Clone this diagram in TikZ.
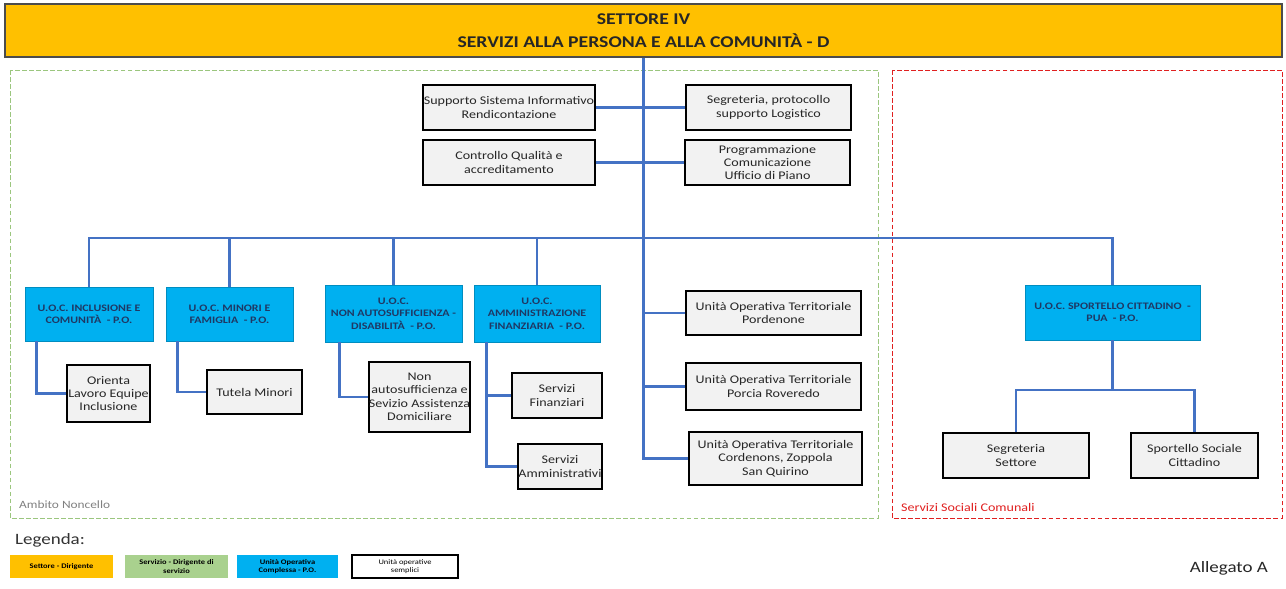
\documentclass[tikz,border=0pt]{standalone}
\usepackage{fontspec}
\setmainfont[FakeStretch=1.2]{Carlito}
\newcommand\pxu{0.03cm}
\definecolor{hdrorange}{HTML}{FFC000}
\definecolor{uocblue}{HTML}{00B0F0}
\definecolor{linkblue}{HTML}{4472C4}
\definecolor{boxgray}{HTML}{F2F2F2}
\definecolor{navytext}{HTML}{1F3864}
\definecolor{legreen}{HTML}{A9D18E}
\definecolor{zonegreen}{HTML}{70AD47}
\definecolor{zonered}{HTML}{E02020}
\begin{document}
\begin{tikzpicture}[x=0.03cm,y=-0.03cm,
  gbox/.style={draw=black,line width=1.1pt,fill=boxgray,align=center,inner sep=0pt,
    font=\fontsize{10}{11.5}\selectfont,text=black!85},
  ubox/.style={fill=uocblue,draw=uocblue!80!black,line width=0.4pt,align=center,inner sep=0pt,
    font=\fontsize{8.5}{10.5}\selectfont\bfseries,text=navytext},
  link/.style={draw=linkblue,line width=2.4pt},
  legbox/.style={align=center,inner sep=0pt,font=\fontsize{6}{7}\selectfont\bfseries,
    minimum height=23*\pxu},
  zone/.style={dashed,line width=0.7pt,dash pattern=on 4pt off 2pt}]
\useasboundingbox (0,0) rectangle (1286,589);
% zones
\draw[zone,draw=zonegreen!70] (10,70) rectangle (878,518);
\draw[zone,draw=zonered] (892,70) rectangle (1282,518);
\node[anchor=west,text=black!50,font=\fontsize{9.5}{11}\selectfont] (lamb) at (15,505) {Ambito Noncello};
\node[anchor=west,text=zonered,font=\fontsize{10}{12}\selectfont] (lssc) at (897,507) {Servizi Sociali Comunali};
% header
\node[fill=hdrorange,draw=black!70,line width=1.2pt,minimum width=1277*\pxu,minimum height=53*\pxu,
  align=center,inner sep=0pt,font=\fontsize{14}{19.5}\selectfont\bfseries,text=black!85] (hdr) at (643.5,30.5)
  {SETTORE IV\\SERVIZI ALLA PERSONA E ALLA COMUNITÀ - D};
% staff boxes
\node[gbox,minimum width=172*\pxu,minimum height=45*\pxu] (sup) at (509,107.5) {Supporto Sistema Informativo\\Rendicontazione};
\node[gbox,minimum width=165*\pxu,minimum height=45*\pxu] (seg) at (768.5,107.5) {Segreteria, protocollo\\supporto Logistico};
\node[gbox,minimum width=172*\pxu,minimum height=45*\pxu] (ctrl) at (509,162.5) {Controllo Qualità e\\accreditamento};
\node[gbox,minimum width=165*\pxu,minimum height=45*\pxu,font=\fontsize{10}{11}\selectfont] (prog) at (767.5,162.5) {Programmazione\\Comunicazione\\Ufficio di Piano};
% UOC boxes
\node[ubox,minimum width=128*\pxu,minimum height=54*\pxu] (u1) at (89,314) {U.O.C. INCLUSIONE E\\COMUNITÀ \ - P.O.};
\node[ubox,minimum width=127*\pxu,minimum height=54*\pxu] (u2) at (229.5,314) {U.O.C. MINORI E\\FAMIGLIA \ - P.O.};
\node[ubox,minimum width=137*\pxu,minimum height=57*\pxu] (u3) at (393.5,313.5) {U.O.C.\\NON AUTOSUFFICIENZA -\\DISABILITÀ \ - P.O.};
\node[ubox,minimum width=126*\pxu,minimum height=57*\pxu] (u4) at (537,313.5) {U.O.C.\\AMMINISTRAZIONE\\FINANZIARIA \ - P.O.};
\node[ubox,minimum width=175*\pxu,minimum height=55*\pxu] (u5) at (1112.5,312.5) {U.O.C. SPORTELLO CITTADINO \ -\\PUA \ - P.O.};
% sub boxes
\node[gbox,minimum width=83*\pxu,minimum height=57*\pxu] (s1) at (108.5,393.5) {Orienta\\Lavoro Equipe\\Inclusione};
\node[gbox,minimum width=95*\pxu,minimum height=44*\pxu] (s2) at (254.5,392) {Tutela Minori};
\node[gbox,minimum width=99*\pxu,minimum height=70*\pxu] (s3) at (419.5,397) {Non\\autosufficienza e\\Sevizio Assistenza\\Domiciliare};
\node[gbox,minimum width=90*\pxu,minimum height=45*\pxu] (s4) at (557,395.5) {Servizi\\Finanziari};
\node[gbox,minimum width=84*\pxu,minimum height=45*\pxu] (s5) at (560,466.5) {Servizi\\Amministrativi};
\node[gbox,minimum width=175*\pxu,minimum height=44*\pxu] (t1) at (773.5,313) {Unità Operativa Territoriale\\Pordenone};
\node[gbox,minimum width=175*\pxu,minimum height=47*\pxu] (t2) at (773.5,386.5) {Unità Operativa Territoriale\\Porcia Roveredo};
\node[gbox,minimum width=173*\pxu,minimum height=53*\pxu] (t3) at (775.5,458.5) {Unità Operativa Territoriale\\Cordenons, Zoppola\\San Quirino};
\node[gbox,minimum width=146*\pxu,minimum height=45*\pxu] (ss1) at (1016,455.5) {Segreteria\\Settore};
\node[gbox,minimum width=127*\pxu,minimum height=45*\pxu] (ss2) at (1194.5,455.5) {Sportello Sociale\\Cittadino};
% connectors
\coordinate (bus) at (643.5,238);
\coordinate (j5) at (1112.5,390);
\draw[link] (hdr.south) |- (t3.west);
\draw[link] (t1.west) -- (t1.west -| hdr.south);
\draw[link] (t2.west) -- (t2.west -| hdr.south);
\draw[link] (sup.east) -- (seg.west);
\draw[link] (ctrl.east) -- (prog.west);
\draw[link] (u1.north) |- (bus) -| (u5.north);
\draw[link] (u2.north) -- (u2.north |- bus);
\draw[link] (u3.north) -- (u3.north |- bus);
\draw[link] (u4.north) -- (u4.north |- bus);
\draw[link] ([xshift=12*\pxu]u1.south west) |- (s1.west);
\draw[link] ([xshift=12*\pxu]u2.south west) |- (s2.west);
\draw[link] ([xshift=15*\pxu]u3.south west) |- (s3.west);
\draw[link] ([xshift=13*\pxu]u4.south west) |- (s4.west);
\draw[link] ([xshift=13*\pxu]u4.south west) |- (s5.west);
\draw[link] (u5.south) -- (j5);
\draw[link] (ss1.north) |- (j5) -| (ss2.north);
% legend
\node[anchor=west,font=\fontsize{13.5}{15}\selectfont,text=black!80] (leg) at (11,540) {Legenda:};
\node[legbox,fill=hdrorange,minimum width=103*\pxu] (l1) at (61.5,566.5) {Settore - Dirigente};
\node[legbox,fill=legreen,minimum width=103*\pxu] (l2) at (176.5,566.5) {Servizio - Dirigente di\\servizio};
\node[legbox,fill=uocblue,minimum width=101*\pxu] (l3) at (287.5,566.5) {Unità Operativa\\Complessa - P.O.};
\node[legbox,fill=white,draw=black,line width=0.9pt,minimum width=106*\pxu,font=\fontsize{6}{7}\selectfont] (l4) at (405,566.5) {Unità operative\\semplici};
\node[anchor=east,font=\fontsize{13.5}{15}\selectfont,text=black!85] (alleg) at (1272,568) {Allegato A};
\end{tikzpicture}
\end{document}
